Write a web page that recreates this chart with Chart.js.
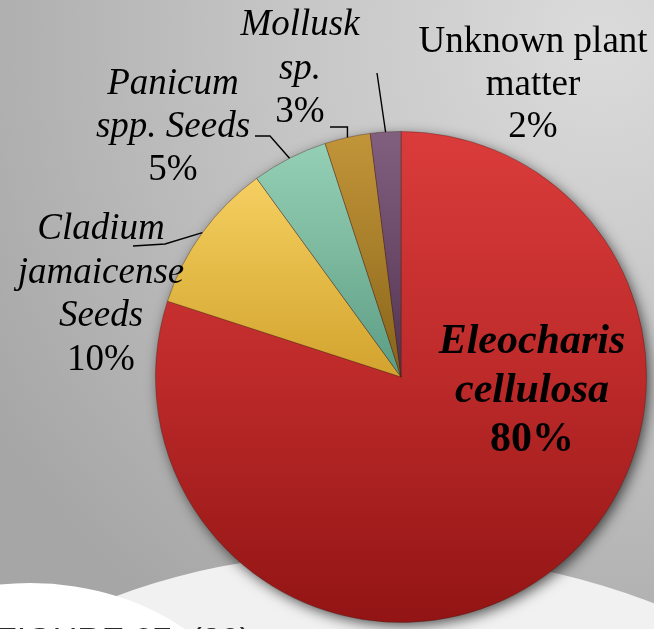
<!DOCTYPE html>
<html>
<head>
<meta charset="utf-8">
<script src="https://cdn.jsdelivr.net/npm/chart.js@4.4.0/dist/chart.umd.min.js"></script>
<style>
  html, body { margin: 0; padding: 0; background: #bdbdbd; }
  canvas { display: block; }
</style>
</head>
<body>
<canvas id="dietChart" width="654" height="629"></canvas>
<script>
// Diet items, percent of total
const categories = [
  ['Eleocharis', 'cellulosa'],
  ['Cladium', 'jamaicense', 'Seeds'],
  ['Panicum', 'spp. Seeds'],
  ['Mollusk', 'sp.'],
  ['Unknown plant', 'matter']
];
const percents = [80, 10, 5, 3, 2];
const captionText = 'FIGURE 27. (30)';

// slice shades, light at the top, dark at the bottom
const sliceShades = [
  ['#da3c3b', '#bd2a2a', '#921414'],
  ['#fcd96f', '#e8bf4c', '#d2a32e'],
  ['#97d2b8', '#7cb99e', '#5a9c84'],
  ['#c29539', '#a77e2a', '#86631a'],
  ['#80607e', '#6b4a69', '#4f334e']
];

// where each label sits and how its leader line bends
const labelLayout = [
  { x: 532, y: 353, gap: 49, size: 42, bold: true, italic: true, leader: null },
  { x: 101, y: 239, gap: 43.5, size: 37, italic: true, leader: [[133, 246], [165, 244]] },
  { x: 173, y: 94, gap: 43, size: 37, italic: true, leader: [[255, 136], [270, 136]] },
  { x: 300, y: 35, gap: 43.5, size: 37, italic: true, leader: [[330, 127], ['edge', 127]] },
  { x: 533, y: 52, gap: 42.5, size: 37, italic: false, leader: [[377, 73]] }
];

const serif = '"Liberation Serif", "Times New Roman", serif';

function sliceFill(ctx) {
  const chart = ctx.chart;
  const area = chart.chartArea;
  const shades = sliceShades[ctx.dataIndex];
  if (!area) return shades[0];
  const mid = (area.top + area.bottom) / 2;
  const end = ctx.dataIndex === 0 ? area.bottom : mid;
  const g = chart.ctx.createLinearGradient(0, area.top, 0, end);
  g.addColorStop(0, shades[0]);
  g.addColorStop(0.5, shades[1]);
  g.addColorStop(1, shades[2]);
  return g;
}

// grey backdrop with the pale swooshes along the bottom
const backdrop = {
  id: 'backdrop',
  beforeDraw(chart) {
    const c = chart.ctx;
    const w = chart.width, h = chart.height;
    c.save();
    const g = c.createRadialGradient(600, 40, 20, 600, 40, 720);
    g.addColorStop(0, '#dadada');
    g.addColorStop(0.45, '#c4c4c4');
    g.addColorStop(1, '#a6a6a6');
    c.fillStyle = g;
    c.fillRect(0, 0, w, h);

    c.fillStyle = '#f1f1f1';
    c.beginPath();
    c.ellipse(398, 853, 500, 300, 0.05, 0, Math.PI * 2);
    c.fill();

    c.fillStyle = '#ffffff';
    c.beginPath();
    c.ellipse(30, 760, 230, 177, 0, 0, Math.PI * 2);
    c.fill();

    c.fillStyle = '#2a2a2a';
    c.font = '34px "Liberation Sans", Arial, sans-serif';
    c.textBaseline = 'alphabetic';
    c.fillText(captionText, -4, 651);
    c.restore();
  }
};

// soft drop shadow under the whole pie
const pieShadow = {
  id: 'pieShadow',
  beforeDatasetsDraw(chart) {
    const arc = chart.getDatasetMeta(0).data[0];
    if (!arc) return;
    const { x, y, outerRadius } = arc.getProps(['x', 'y', 'outerRadius'], true);
    const c = chart.ctx;
    c.save();
    c.shadowColor = 'rgba(0, 0, 0, 0.7)';
    c.shadowBlur = 14;
    c.shadowOffsetX = 3;
    c.shadowOffsetY = 4;
    c.fillStyle = '#8a1515';
    c.beginPath();
    c.arc(x, y, outerRadius - 1, 0, Math.PI * 2);
    c.fill();
    c.restore();
  }
};

// category names and percentages, with leader lines to the slices
const sliceLabels = {
  id: 'sliceLabels',
  afterDatasetsDraw(chart) {
    const c = chart.ctx;
    const meta = chart.getDatasetMeta(0);
    c.save();
    c.textAlign = 'center';
    c.textBaseline = 'alphabetic';
    c.fillStyle = '#000';
    c.strokeStyle = '#000';
    c.lineWidth = 1.4;

    meta.data.forEach((arc, i) => {
      const lay = labelLayout[i];
      const p = arc.getProps(['x', 'y', 'startAngle', 'endAngle', 'outerRadius'], true);
      const midA = (p.startAngle + p.endAngle) / 2;
      const ex = p.x + Math.cos(midA) * p.outerRadius;
      const ey = p.y + Math.sin(midA) * p.outerRadius;

      if (lay.leader) {
        c.beginPath();
        lay.leader.forEach((pt, k) => {
          const px = pt[0] === 'edge' ? ex : pt[0];
          if (k === 0) c.moveTo(px, pt[1]); else c.lineTo(px, pt[1]);
        });
        c.lineTo(ex, ey);
        c.stroke();
      }

      const weight = lay.bold ? 'bold ' : '';
      const nameStyle = lay.italic ? 'italic ' : '';
      const lines = chart.data.labels[i];
      lines.forEach((txt, k) => {
        c.font = nameStyle + weight + lay.size + 'px ' + serif;
        c.fillText(txt, lay.x, lay.y + k * lay.gap);
      });
      c.font = weight + lay.size + 'px ' + serif;
      c.fillText(percents[i] + '%', lay.x, lay.y + lines.length * lay.gap);
    });
    c.restore();
  }
};

new Chart(document.getElementById('dietChart'), {
  type: 'pie',
  data: {
    labels: categories,
    datasets: [{
      data: percents,
      backgroundColor: sliceFill,
      borderColor: 'rgba(60, 30, 20, 0.35)',
      borderWidth: 1
    }]
  },
  options: {
    responsive: false,
    animation: false,
    layout: { padding: { left: 155, right: 7, top: 131, bottom: 6 } },
    plugins: {
      legend: { display: false },
      tooltip: { enabled: false }
    }
  },
  plugins: [backdrop, pieShadow, sliceLabels]
});
</script>
</body>
</html>
